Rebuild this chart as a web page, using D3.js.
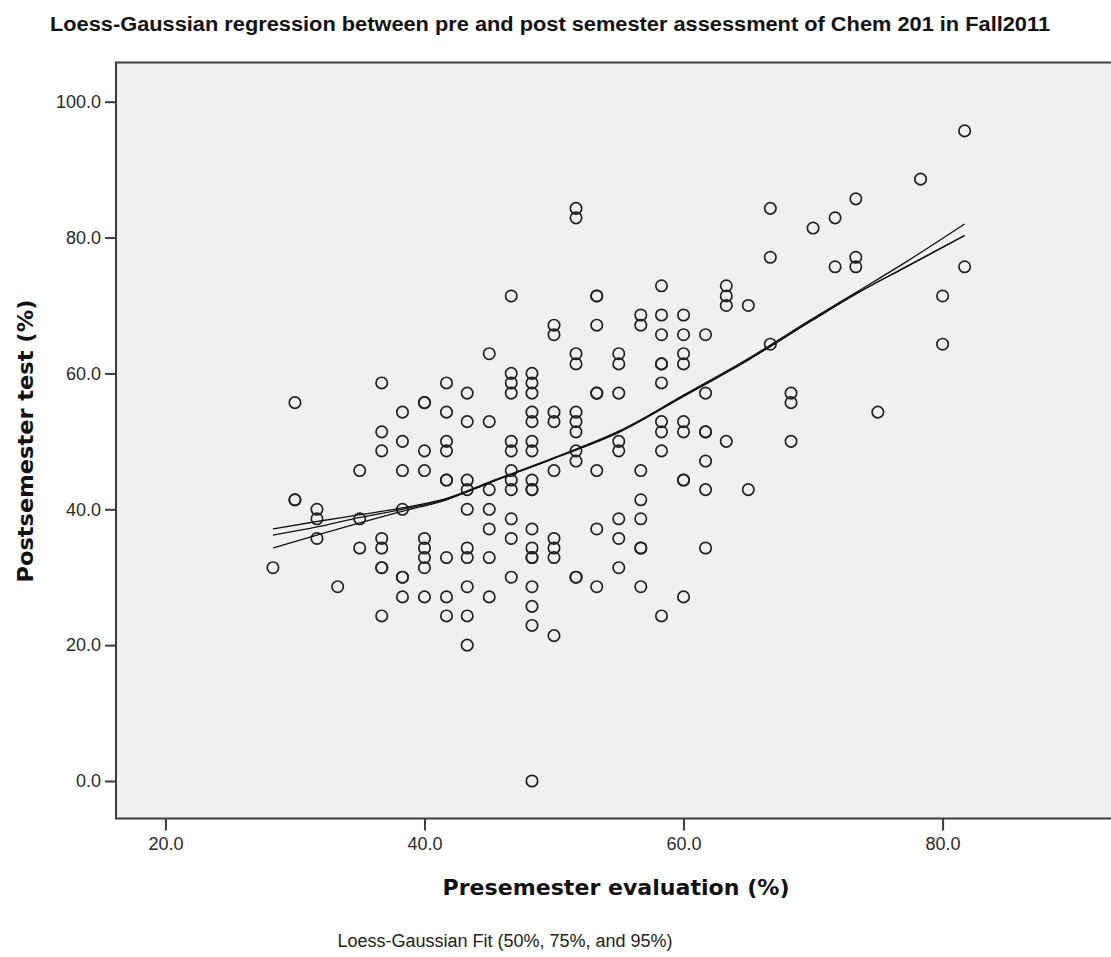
<!DOCTYPE html>
<html>
<head>
<meta charset="utf-8">
<script src="https://cdn.jsdelivr.net/npm/d3@7"></script>
<style>
  body { margin: 0; background: #fff; }
  svg { display: block; }
</style>
</head>
<body>
<div id="chart"></div>
<script>
// presemester score levels (x) and the postsemester scores seen at each level (y)
const preLevels = [28.3, 30.0, 31.7, 33.3, 35.0, 36.7, 38.3, 40.0, 41.7, 43.3, 45.0, 46.7, 48.3, 50.0, 51.7, 53.3,
  55.0, 56.7, 58.3, 60.0, 61.7, 63.3, 65.0, 66.7, 68.3, 70.0, 71.7, 73.3, 75.0, 78.3, 80.0, 81.7]
const postByLevel = [
  [31.4],
  [55.7, 41.4, 41.4],
  [40.0, 38.6, 35.7],
  [28.6],
  [45.7, 38.6, 34.3],
  [58.6, 51.4, 48.6, 35.7, 34.3, 31.4, 31.4, 24.3],
  [54.3, 50.0, 45.7, 40.0, 30.0, 30.0, 27.1],
  [55.7, 55.7, 48.6, 45.7, 35.7, 34.3, 32.9, 31.4, 27.1],
  [58.6, 54.3, 50.0, 48.6, 44.3, 44.3, 32.9, 27.1, 24.3],
  [57.1, 52.9, 44.3, 42.9, 40.0, 34.3, 32.9, 28.6, 24.3, 20.0],
  [62.9, 52.9, 42.9, 40.0, 37.1, 32.9, 27.1],
  [71.4, 60.0, 58.6, 57.1, 50.0, 48.6, 45.7, 44.3, 42.9, 38.6, 35.7, 30.0],
  [60.0, 58.6, 57.1, 54.3, 52.9, 50.0, 48.6, 44.3, 42.9, 42.9, 37.1, 34.3, 32.9, 32.9, 28.6, 25.7, 22.9, 0.0],
  [67.1, 65.7, 54.3, 52.9, 45.7, 35.7, 34.3, 32.9, 21.4],
  [84.3, 82.9, 62.9, 61.4, 54.3, 52.9, 51.4, 48.6, 47.1, 30.0, 30.0],
  [71.4, 71.4, 67.1, 57.1, 57.1, 45.7, 37.1, 28.6],
  [62.9, 61.4, 57.1, 50.0, 48.6, 38.6, 35.7, 31.4],
  [68.6, 67.1, 45.7, 41.4, 38.6, 34.3, 34.3, 28.6],
  [72.9, 68.6, 65.7, 61.4, 61.4, 58.6, 52.9, 51.4, 48.6, 24.3],
  [68.6, 65.7, 62.9, 61.4, 52.9, 51.4, 44.3, 44.3, 27.1],
  [65.7, 57.1, 51.4, 51.4, 47.1, 42.9, 34.3],
  [72.9, 71.4, 70.0, 50.0],
  [70.0, 42.9],
  [84.3, 77.1, 64.3],
  [57.1, 55.7, 50.0],
  [81.4],
  [82.9, 75.7],
  [85.7, 77.1, 75.7],
  [54.3],
  [88.6],
  [71.4, 64.3],
  [95.7, 75.7]
]

// loess-gaussian fits
const loessX = [28.3, 31.7, 35.0, 38.3, 41.7, 45.0, 50.0, 55.0, 60.0, 65.0, 70.0, 73.3, 77.0, 81.7]
const loess50 = [34.3, 36.2, 38.0, 39.7, 41.4, 43.9, 47.5, 51.4, 56.8, 62.2, 68.1, 71.9, 76.2, 82.0]
const loess75 = [36.2, 37.4, 38.8, 40.0, 41.5, 43.9, 47.5, 51.3, 56.6, 62.0, 67.9, 71.7, 75.5, 80.3]
const loess95 = [37.1, 38.2, 39.2, 40.2, 41.6, 44.0, 47.6, 51.5, 56.7, 62.0, 67.9, 71.7, 75.5, 80.3]

const xTicks = [20, 40, 60, 80]
const yTicks = [0, 20, 40, 60, 80, 100]

const width = 1111
const height = 957
const plot = { left: 116, top: 62.5, right: 1120, bottom: 818.5 }

const svg = d3.select('#chart')
  .append('svg')
  .attr('width', width)
  .attr('height', height)

const x = d3.scaleLinear().domain([20, 80]).range([165.4, 942.6])
const y = d3.scaleLinear().domain([0, 100]).range([781, 101.7])

svg.append('rect')
  .attr('x', plot.left)
  .attr('y', plot.top)
  .attr('width', plot.right - plot.left)
  .attr('height', plot.bottom - plot.top)
  .attr('fill', '#f0f0f0')
  .attr('stroke', '#3c3c3c')
  .attr('stroke-width', 2)

const tickFont = '"Liberation Sans", Arial, sans-serif'
const titleFont = '"DejaVu Sans", Verdana, sans-serif'

const yAxis = svg.append('g')
  .attr('transform', `translate(${plot.left},0)`)
  .call(d3.axisLeft(y).tickValues(yTicks).tickFormat(d3.format('.1f')).tickSize(11).tickPadding(4).tickSizeOuter(0))
yAxis.select('.domain').remove()

const xAxis = svg.append('g')
  .attr('transform', `translate(0,${plot.bottom})`)
  .call(d3.axisBottom(x).tickValues(xTicks).tickFormat(d3.format('.1f')).tickSize(12).tickPadding(7).tickSizeOuter(0))
xAxis.select('.domain').remove()

svg.selectAll('.tick line')
  .attr('stroke', '#3c3c3c')
  .attr('stroke-width', 2)
svg.selectAll('.tick text')
  .attr('font-family', tickFont)
  .attr('font-size', 18)
  .attr('fill', '#2a2a2a')

// points
const points = preLevels.flatMap((pre, i) => postByLevel[i].map(post => ({ pre, post })))

svg.append('g')
  .selectAll('circle')
  .data(points)
  .enter()
    .append('circle')
    .attr('cx', d => x(d.pre))
    .attr('cy', d => y(d.post))
    .attr('r', 5.7)
    .attr('fill', 'none')
    .attr('stroke', '#222')
    .attr('stroke-width', 1.7)

// fit lines
const line = d3.line()
  .x(d => x(d[0]))
  .y(d => y(d[1]))
  .curve(d3.curveMonotoneX)

svg.append('g')
  .selectAll('path')
  .data([loess50, loess75, loess95])
  .enter()
    .append('path')
    .attr('d', fit => line(loessX.map((v, i) => [v, fit[i]])))
    .attr('fill', 'none')
    .attr('stroke', '#111')
    .attr('stroke-width', 1.3)

// texts
svg.append('text')
  .attr('x', 550)
  .attr('y', 31)
  .attr('text-anchor', 'middle')
  .attr('font-family', '"Liberation Sans Narrow", "Liberation Sans", Arial, sans-serif')
  .attr('font-weight', 'bold')
  .attr('font-size', 20)
  .attr('textLength', 1000)
  .attr('lengthAdjust', 'spacingAndGlyphs')
  .attr('fill', '#111')
  .text('Loess-Gaussian regression between pre and post semester assessment of Chem 201 in Fall2011')

svg.append('text')
  .attr('transform', 'translate(33,441) rotate(-90)')
  .attr('text-anchor', 'middle')
  .attr('font-family', titleFont)
  .attr('font-weight', 'bold')
  .attr('font-size', 22)
  .attr('textLength', 283)
  .attr('lengthAdjust', 'spacingAndGlyphs')
  .attr('fill', '#111')
  .text('Postsemester test (%)')

svg.append('text')
  .attr('x', 616)
  .attr('y', 895)
  .attr('text-anchor', 'middle')
  .attr('font-family', titleFont)
  .attr('font-weight', 'bold')
  .attr('font-size', 22)
  .attr('textLength', 347)
  .attr('lengthAdjust', 'spacingAndGlyphs')
  .attr('fill', '#111')
  .text('Presemester evaluation (%)')

svg.append('text')
  .attr('x', 505)
  .attr('y', 947)
  .attr('text-anchor', 'middle')
  .attr('font-family', tickFont)
  .attr('font-size', 18)
  .attr('fill', '#222')
  .text('Loess-Gaussian Fit (50%, 75%, and 95%)')
</script>
</body>
</html>
